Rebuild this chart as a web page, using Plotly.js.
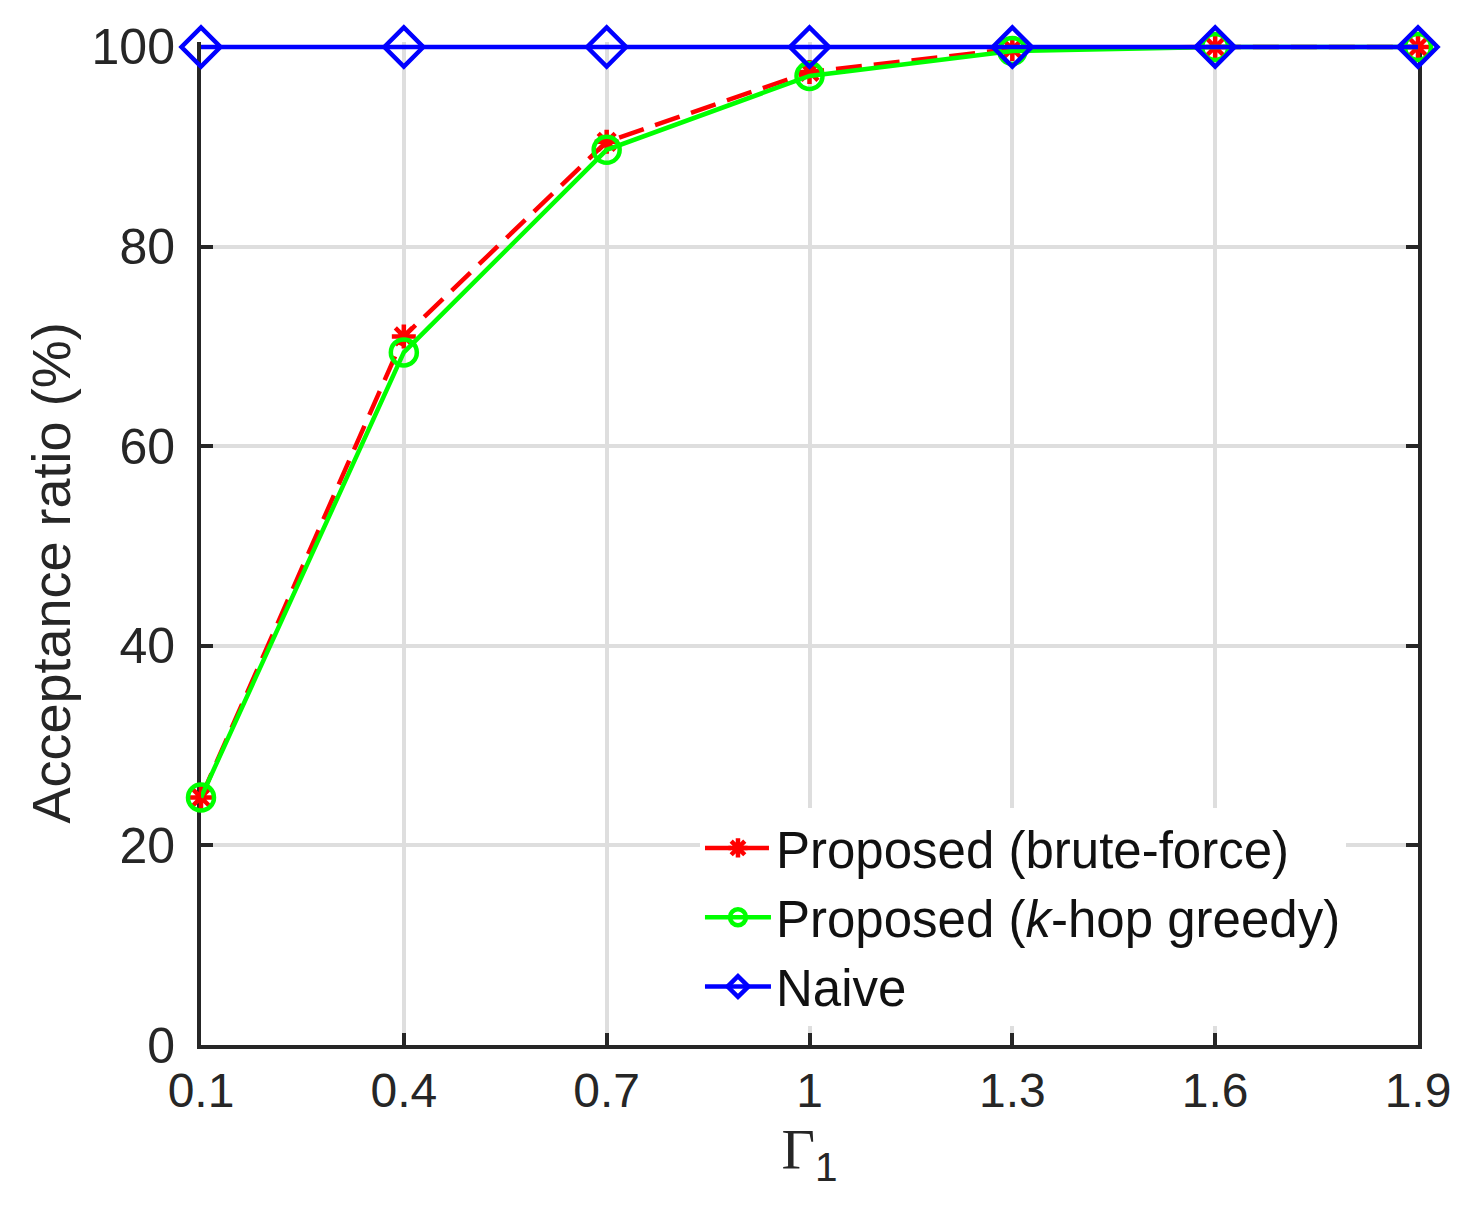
<!DOCTYPE html>
<html>
<head>
<meta charset="utf-8">
<script src="https://cdn.plot.ly/plotly-3.0.1.min.js"></script>
<style>html,body{margin:0;padding:0;background:#fff;}#chart{width:1468px;height:1221px;}</style>
</head>
<body>
<div id="chart"></div>
<script>
const gammaValues = [0.1, 0.4, 0.7, 1.0, 1.3, 1.6, 1.9];
const bruteForce = [24.8, 71.0, 90.5, 97.5, 99.8, 100, 100];
const kHopGreedy = [24.8, 69.4, 89.7, 97.1, 99.6, 100, 100];
const naive = [100, 100, 100, 100, 100, 100, 100];
const xTickVals = [0.1, 0.4, 0.7, 1, 1.3, 1.6, 1.9];
const xTickText = ['0.1', '0.4', '0.7', '1', '1.3', '1.6', '1.9'];
const yTickVals = [0, 20, 40, 60, 80, 100];

const font = 'Liberation Sans, Arial, Helvetica, sans-serif';

const traces = [
  {
    x: gammaValues, y: bruteForce, type: 'scatter', mode: 'lines+markers',
    name: 'Proposed (brute-force)',
    line: {color: '#ff0000', width: 4.5, dash: '26px,12px'},
    marker: {symbol: 'asterisk-open', size: 20, color: '#ff0000', line: {color: '#ff0000', width: 4.5}},
    cliponaxis: false
  },
  {
    x: gammaValues, y: kHopGreedy, type: 'scatter', mode: 'lines+markers',
    name: 'Proposed (<i>k</i>-hop greedy)',
    line: {color: '#00ff00', width: 4.5},
    marker: {symbol: 'circle-open', size: 26, color: '#00ff00', line: {color: '#00ff00', width: 4.5}},
    cliponaxis: false
  },
  {
    x: gammaValues, y: naive, type: 'scatter', mode: 'lines+markers',
    name: 'Naive',
    line: {color: '#0000ff', width: 4.5},
    marker: {symbol: 'diamond-open', size: 30, color: '#0000ff', line: {color: '#0000ff', width: 4.5}},
    cliponaxis: false
  }
];

const layout = {
  width: 1468, height: 1221,
  margin: {l: 201, r: 50, t: 42, b: 176},
  paper_bgcolor: '#ffffff', plot_bgcolor: '#ffffff',
  font: {family: font, color: '#262626', size: 50},
  showlegend: true,
  xaxis: {
    range: [0.1, 1.9], tickvals: xTickVals, ticktext: xTickText,
    showgrid: true, gridcolor: '#dedede', gridwidth: 4,
    zeroline: false, showline: true, linecolor: '#262626', linewidth: 4, mirror: false,
    ticks: 'inside', ticklen: 12, tickwidth: 4, tickcolor: '#262626',
    layer: 'below traces',
    tickfont: {size: 48, family: font, color: '#262626'},
    title: {text: 'Γ<sub><span style="font-family:Liberation Sans">1</span></sub>', font: {family: 'Liberation Serif, Times New Roman, serif', size: 58, color: '#262626'}, standoff: 14}
  },
  yaxis: {
    range: [0, 100.5], tickvals: yTickVals,
    showgrid: true, gridcolor: '#dedede', gridwidth: 4,
    zeroline: false, showline: true, linecolor: '#262626', linewidth: 4, mirror: 'ticks',
    ticks: 'inside', ticklen: 12, tickwidth: 4, tickcolor: '#262626',
    layer: 'below traces',
    ticklabelstandoff: 12,
    tickfont: {size: 50, family: font, color: '#262626'}
  },
  shapes: [{
    type: 'line', xref: 'paper', yref: 'y', x0: 0, x1: 1, y0: 100, y1: 100,
    line: {color: '#262626', width: 4}, layer: 'below'
  }],
  annotations: [{
    text: 'Acceptance ratio (%)', textangle: -90, showarrow: false,
    xref: 'paper', yref: 'paper', x: 0, y: 0.47, xanchor: 'center', yanchor: 'middle',
    xshift: -150,
    font: {family: font, size: 54, color: '#262626'}
  }],
  legend: {
    x: 0.41, y: 0.236, xanchor: 'left', yanchor: 'top',
    bgcolor: '#ffffff', borderwidth: 0,
    font: {family: font, size: 51, color: '#111111'},
    itemwidth: 66, tracegroupgap: 0
  }
};

Plotly.newPlot('chart', traces, layout, {displayModeBar: false, staticPlot: true});
</script>
</body>
</html>
